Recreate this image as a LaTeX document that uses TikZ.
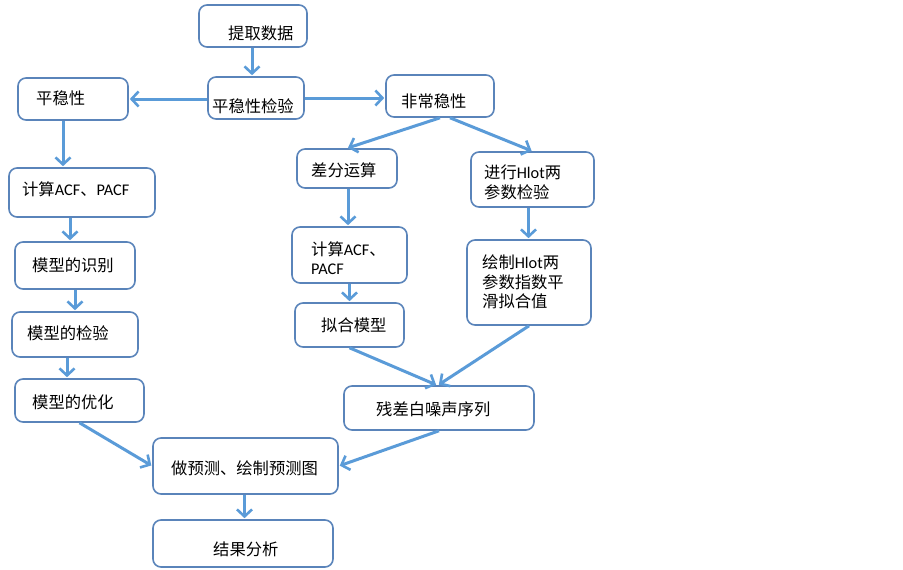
\documentclass[tikz,border=0pt]{standalone}
\usepackage{fontspec}
\setmainfont{Carlito}
\newfontfamily\cjk{Noto Sans CJK SC}
\usetikzlibrary{arrows.meta}
\definecolor{boxc}{HTML}{5A84BA}
\definecolor{arrc}{HTML}{5A9BD8}
\tikzset{
  bx/.style={draw=boxc, line width=1.6pt, rounded corners=8pt, fill=white, inner sep=0pt},
  tx/.style={anchor=west, inner sep=0pt, font=\fontsize{16.3}{19.5}\selectfont\cjk, align=left},
  arr/.style={draw=arrc, line width=3pt, -{Straight Barb[length=7pt,width=15pt,line width=2.6pt]}, shorten >=1pt},
}
\newcommand{\mkbox}[5]{\node[bx, minimum width=#4-#2, minimum height=#5-#3] (#1) at ({(#2+#4)/2},{(#3+#5)/2}) {};}
\begin{document}
\begin{tikzpicture}[x=1pt,y=-1pt]
\useasboundingbox (0,0) rectangle (903,570);
% boxes
\mkbox{get}{199}{5}{307}{47}
\mkbox{chk}{208}{77}{304}{119}
\mkbox{st}{18}{78}{128}{120}
\mkbox{nst}{386}{75}{494}{117}
\mkbox{dif}{297}{149}{397}{188}
\mkbox{hck}{471}{152}{594}{207}
\mkbox{acfm}{292}{227}{407}{283}
\mkbox{hsm}{467}{240}{591}{325}
\mkbox{fit}{295}{303}{404}{347}
\mkbox{acfl}{9}{168}{155}{217}
\mkbox{idf}{15}{242}{135}{289}
\mkbox{ver}{12}{312}{138}{357}
\mkbox{opt}{15}{379}{144}{422}
\mkbox{res}{344}{386}{534}{430}
\mkbox{pred}{153}{438}{338}{494}
\mkbox{ana}{153}{520}{333}{567}
% texts
\node[tx] (tget) at (228,33) {提取数据};
\node[tx] (tchk) at (212,106) {平稳性检验};
\node[tx] (tst) at (36,98) {平稳性};
\node[tx] (tnst) at (401,101) {非常稳性};
\node[tx] (tdif) at (311,170) {差分运算};
\node[tx] (thck) at (484,182.5) {进行{\rmfamily Hlot}两\\参数检验};
\node[tx] (tacfm) at (311,258) {计算{\rmfamily ACF}、\\{\rmfamily PACF}};
\node[tx] (thsm) at (482,282) {绘制{\rmfamily Hlot}两\\参数指数平\\滑拟合值};
\node[tx] (tfit) at (321,325) {拟合模型};
\node[tx] (tacfl) at (22,189) {计算{\rmfamily ACF}、{\rmfamily PACF}};
\node[tx] (tidf) at (32,265) {模型的识别};
\node[tx] (tver) at (27,333) {模型的检验};
\node[tx] (topt) at (32,402) {模型的优化};
\node[tx] (tres) at (376,409) {残差白噪声序列};
\node[tx] (tpred) at (171,468) {做预测、绘制预测图};
\node[tx] (tana) at (213,549) {结果分析};
% arrows
\draw[arr] ([xshift=-1pt]get.south) -- ([xshift=-1pt]get.south |- chk.north);
\draw[arr] ([yshift=-1pt]chk.west) -- ([yshift=-1pt]chk.west -| st.east);
\draw[arr] (chk.east) -- (chk.east -| nst.west);
\draw[arr] ([xshift=-10pt]st.south) -- ([xshift=-10pt]st.south |- acfl.north);
\draw[arr] ([xshift=-12pt]acfl.south) -- ([xshift=-12pt]acfl.south |- idf.north);
\draw[arr] (idf.south) -- (idf.south |- ver.north);
\draw[arr] ([xshift=-8pt]ver.south) -- ([xshift=-8pt]ver.south |- opt.north);
\draw[arr] (opt.south) -- (pred.west);
\draw[arr] (nst.south) -- (dif.north);
\draw[arr] ([xshift=10pt]nst.south) -- (hck.north);
\draw[arr] ([xshift=1pt]dif.south) -- ([xshift=1pt]dif.south |- acfm.north);
\draw[arr] (acfm.south) -- (acfm.south |- fit.north);
\draw[arr] ([xshift=-4pt]hck.south) -- ([xshift=-4pt]hck.south |- hsm.north);
\draw[arr] (fit.south) -- ([xshift=-2pt]res.north);
\draw[arr] (hsm.south) -- ([xshift=-1pt]res.north);
\draw[arr] (res.south) -- (pred.east);
\draw[arr] ([xshift=-1pt]pred.south) -- ([xshift=-1pt]pred.south |- ana.north);
\end{tikzpicture}
\end{document}
